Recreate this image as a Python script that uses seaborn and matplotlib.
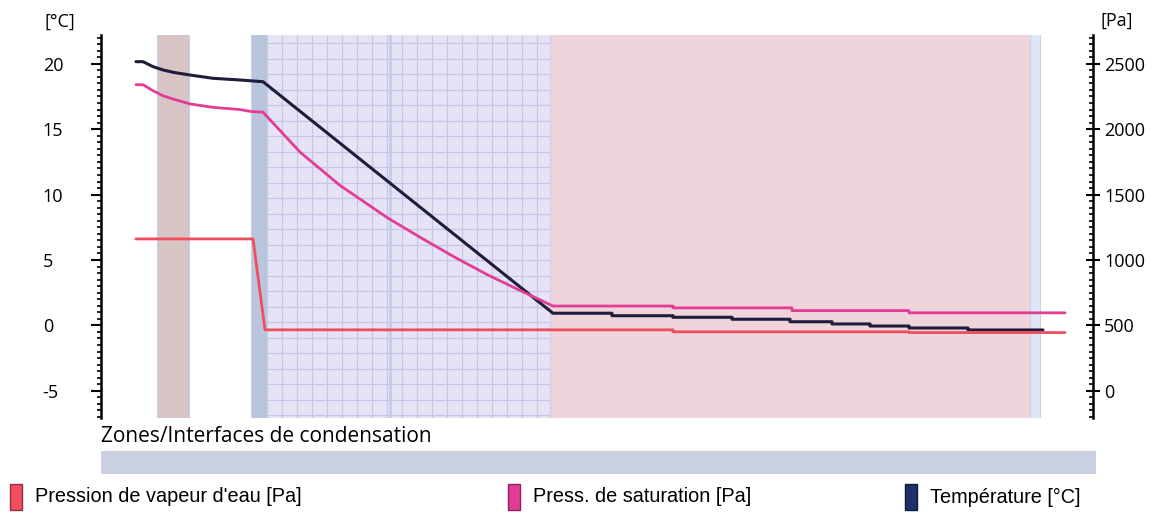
import numpy as np
import pandas as pd
import matplotlib
matplotlib.use("Agg")
import matplotlib.pyplot as plt
import seaborn as sns
from matplotlib.patches import Rectangle
from matplotlib.ticker import MultipleLocator

# ---------------- data (position through the wall, arbitrary units) ----------------
layer_edges = [5.6, 8.8, 15.0, 16.6, 28.9, 44.9, 92.9, 93.9]
layer_colors = ["#d8c3c5", "#ffffff", "#b9c5dc", "#e6e3f5", "#e6e3f5", "#efd4db", "#dfe6f6"]

temp_x = [3.5, 4.2, 5.2, 6.2, 7.2, 8.9, 11.2, 13.9, 16.2, 28.7, 45.2,
          51.1, 51.1, 57.2, 57.2, 63.1, 63.1, 68.9, 68.9, 73.1, 73.1,
          76.9, 76.9, 80.8, 80.8, 86.7, 86.7, 94.2]
temp_c = [20.16, 20.16, 19.78, 19.53, 19.35, 19.14, 18.89, 18.76, 18.63, 11.0, 0.93,
          0.93, 0.74, 0.74, 0.62, 0.62, 0.47, 0.47, 0.28, 0.28, 0.11,
          0.11, -0.05, -0.05, -0.20, -0.20, -0.35, -0.35]

sat_x = [3.5, 4.2, 5.2, 6.2, 7.2, 8.9, 11.2, 13.9, 15.0, 16.2, 19.9, 23.9,
         28.7, 32.1, 35.4, 38.7, 42.1, 45.2, 57.2, 57.2, 69.1, 69.1, 80.8, 80.8, 96.4]
sat_pa = [2340, 2340, 2294, 2256, 2231, 2193, 2167, 2150, 2135, 2130, 1825, 1570,
          1320, 1165, 1020, 885, 760, 648, 648, 634, 634, 613, 613, 596, 596]

vap_x = [3.5, 15.2, 16.4, 57.2, 57.2, 80.8, 80.8, 96.4]
vap_pa = [1161, 1161, 466, 466, 451, 451, 445, 445]

temp_ticks = [-5, 0, 5, 10, 15, 20]
pa_ticks = [0, 500, 1000, 1500, 2000, 2500]
legend_labels = ["Pression de vapeur d'eau [Pa]", "Press. de saturation [Pa]", "Température [°C]"]
zone_label = "Zones/Interfaces de condensation"

c_temp, c_sat, c_vap = "#1e1d3c", "#e23c95", "#f04e5e"

# ---------------- figure ----------------
sns.set_style("white")
plt.rcParams["font.family"] = ["Open Sans", "DejaVu Sans"]
plt.rcParams["axes.unicode_minus"] = False
plt.rcParams["text.color"] = "black"
plt.rcParams["ytick.color"] = "black"
plt.rcParams["ytick.labelcolor"] = "black"

W, H = 1160, 513
fig = plt.figure(figsize=(W / 100, H / 100), dpi=100)

def fx(px):
    return px / W

def fy(py):
    return 1 - py / H

ax = fig.add_axes([fx(101), fy(418), fx(1093 - 101), (418 - 35) / H])
ax.set_xlim(0, 99.2)
ax.set_ylim(-7.08, 22.2)
ax2 = ax.twinx()
ax2.set_ylim(100 * (-7.08 + 5), 100 * (22.2 + 5))

# layer bands
for i, col in enumerate(layer_colors):
    x0, x1 = layer_edges[i], layer_edges[i + 1]
    ax.axvspan(x0, x1, color=col, zorder=0, lw=0)
    ax.axvline(x0, color="#c9d1ea", lw=0.8, zorder=0.5)
ax.axvline(layer_edges[-1], color="#c9d1ea", lw=0.8, zorder=0.5)
ax.axvline(layer_edges[4], color="#c3cdea", lw=2.0, zorder=0.6)

# grid texture inside insulation layers
gx = np.arange(layer_edges[3], layer_edges[5], 1.5)
ax.vlines(gx, -7.08, 22.2, color="#c6c6e6", lw=0.9, zorder=0.4)
gy = np.arange(-7.08 + 0.2, 22.2, 15.5 / 13.08)
ax.hlines(gy, layer_edges[3], layer_edges[5], color="#c6c6e6", lw=0.9, zorder=0.4)

# lines
df_t = pd.DataFrame({"x": temp_x, "y": temp_c})
df_s = pd.DataFrame({"x": sat_x, "y": sat_pa})
df_v = pd.DataFrame({"x": vap_x, "y": vap_pa})
sns.lineplot(data=df_v, x="x", y="y", ax=ax2, color=c_vap, lw=2.0, estimator=None, sort=False, zorder=3)
sns.lineplot(data=df_s, x="x", y="y", ax=ax2, color=c_sat, lw=2.0, estimator=None, sort=False, zorder=3)
sns.lineplot(data=df_t, x="x", y="y", ax=ax, color=c_temp, lw=2.2, estimator=None, sort=False, zorder=4)
ax.set_zorder(1)
ax2.set_zorder(2)
ax2.patch.set_visible(False)

# axes styling
for a in (ax, ax2):
    a.set_xlabel("")
    a.set_ylabel("")
    a.set_xticks([])
    for s in ("top", "bottom"):
        a.spines[s].set_visible(False)
ax.spines["right"].set_visible(False)
ax2.spines["left"].set_visible(False)
ax.spines["left"].set_linewidth(1.8)
ax.spines["left"].set_color("black")
ax2.spines["right"].set_linewidth(1.8)
ax2.spines["right"].set_color("black")

ax.set_yticks(temp_ticks)
ax.yaxis.set_minor_locator(MultipleLocator(0.5))
ax.tick_params(axis="y", which="major", direction="out", length=7, width=1.5,
               labelsize=13, pad=35, colors="black")
ax.tick_params(axis="y", which="minor", direction="out", length=3, width=1.2, colors="black")
for lab in ax.get_yticklabels():
    lab.set_ha("left")

ax2.set_yticks(pa_ticks)
ax2.yaxis.set_minor_locator(MultipleLocator(50))
ax2.tick_params(axis="y", which="major", direction="inout", length=10, width=1.5,
                labelsize=13, pad=3, colors="black")
ax2.tick_params(axis="y", which="minor", direction="in", length=3, width=1.2, colors="black")

fig.text(fx(44), fy(22), "[°C]", fontsize=13, ha="left", va="center")
fig.text(fx(1101), fy(21), "[Pa]", fontsize=13, ha="left", va="center")

# condensation zone strip
fig.text(fx(101), fy(437), zone_label, fontsize=15, ha="left", va="center")
fig.patches.append(Rectangle((fx(101), fy(474)), fx(1096 - 101), (474 - 451) / H,
                             transform=fig.transFigure, facecolor="#cad0e0", edgecolor="none"))

# legend
leg_cols = [c_vap, c_sat, "#20306a"]
leg_edges = ["#90303c", "#902060", "#101838"]
patch_x = [10, 508, 905]
for lab, col, ec, px in zip(legend_labels, leg_cols, leg_edges, patch_x):
    fig.patches.append(Rectangle((fx(px), fy(510)), fx(12), 26 / H, transform=fig.transFigure,
                                 facecolor=col, edgecolor=ec, lw=1.0))
    fig.text(fx(px + 25), fy(497), lab, fontsize=14.3, ha="left", va="center",
             family=["Liberation Sans", "DejaVu Sans"])

fig.savefig("out.png", dpi=100)
